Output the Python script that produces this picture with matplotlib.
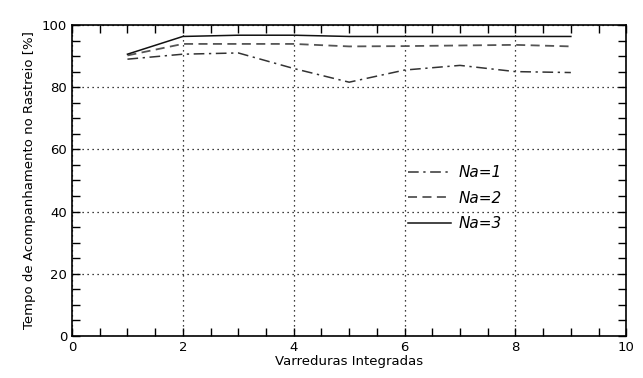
import matplotlib
matplotlib.use("Agg")
import matplotlib.pyplot as plt
from matplotlib.ticker import MultipleLocator

varreduras = [1, 2, 3, 4, 5, 6, 7, 8, 9]
na1 = [89.0, 90.6, 91.0, 86.0, 81.6, 85.5, 87.0, 85.0, 84.7]
na2 = [90.2, 93.9, 93.9, 93.9, 93.1, 93.2, 93.4, 93.6, 93.1]
na3 = [90.6, 96.3, 96.7, 96.7, 96.3, 96.3, 96.3, 96.3, 96.3]

fig = plt.figure(figsize=(6.43, 3.78), dpi=100)
ax = fig.add_axes([0.112, 0.111, 0.862, 0.823])

ax.plot(varreduras, na1, color="#333333", linestyle=(0, (7, 3, 1.5, 3)), linewidth=1.1, label="Na=1")
ax.plot(varreduras, na2, color="#555555", linestyle=(0, (5, 3)), linewidth=1.3, label="Na=2")
ax.plot(varreduras, na3, color="#111111", linestyle="-", linewidth=1.1, label="Na=3")

ax.set_xlim(0, 10)
ax.set_ylim(0, 100)
ax.xaxis.set_major_locator(MultipleLocator(2))
ax.xaxis.set_minor_locator(MultipleLocator(0.5))
ax.yaxis.set_major_locator(MultipleLocator(20))
ax.yaxis.set_minor_locator(MultipleLocator(5))
ax.tick_params(which="both", direction="in", top=True, right=True, labelsize=9.5, width=1)
ax.tick_params(which="major", length=6)
ax.tick_params(which="minor", length=6)
ax.grid(True, which="major", linestyle=(0, (1, 3)), color="black", linewidth=0.9)
for s in ax.spines.values():
    s.set_linewidth(1.2)

ax.set_xlabel("Varreduras Integradas", fontsize=9.5, labelpad=1)
ax.set_ylabel("Tempo de Acompanhamento no Rastreio [%]", fontsize=9.5, labelpad=4)

leg = ax.legend(loc="upper left", bbox_to_anchor=(0.582, 0.593), frameon=False,
                handlelength=2.8, handletextpad=0.5, labelspacing=0.68,
                prop={"style": "italic", "size": 11})

fig.savefig("out.png", dpi=100)
